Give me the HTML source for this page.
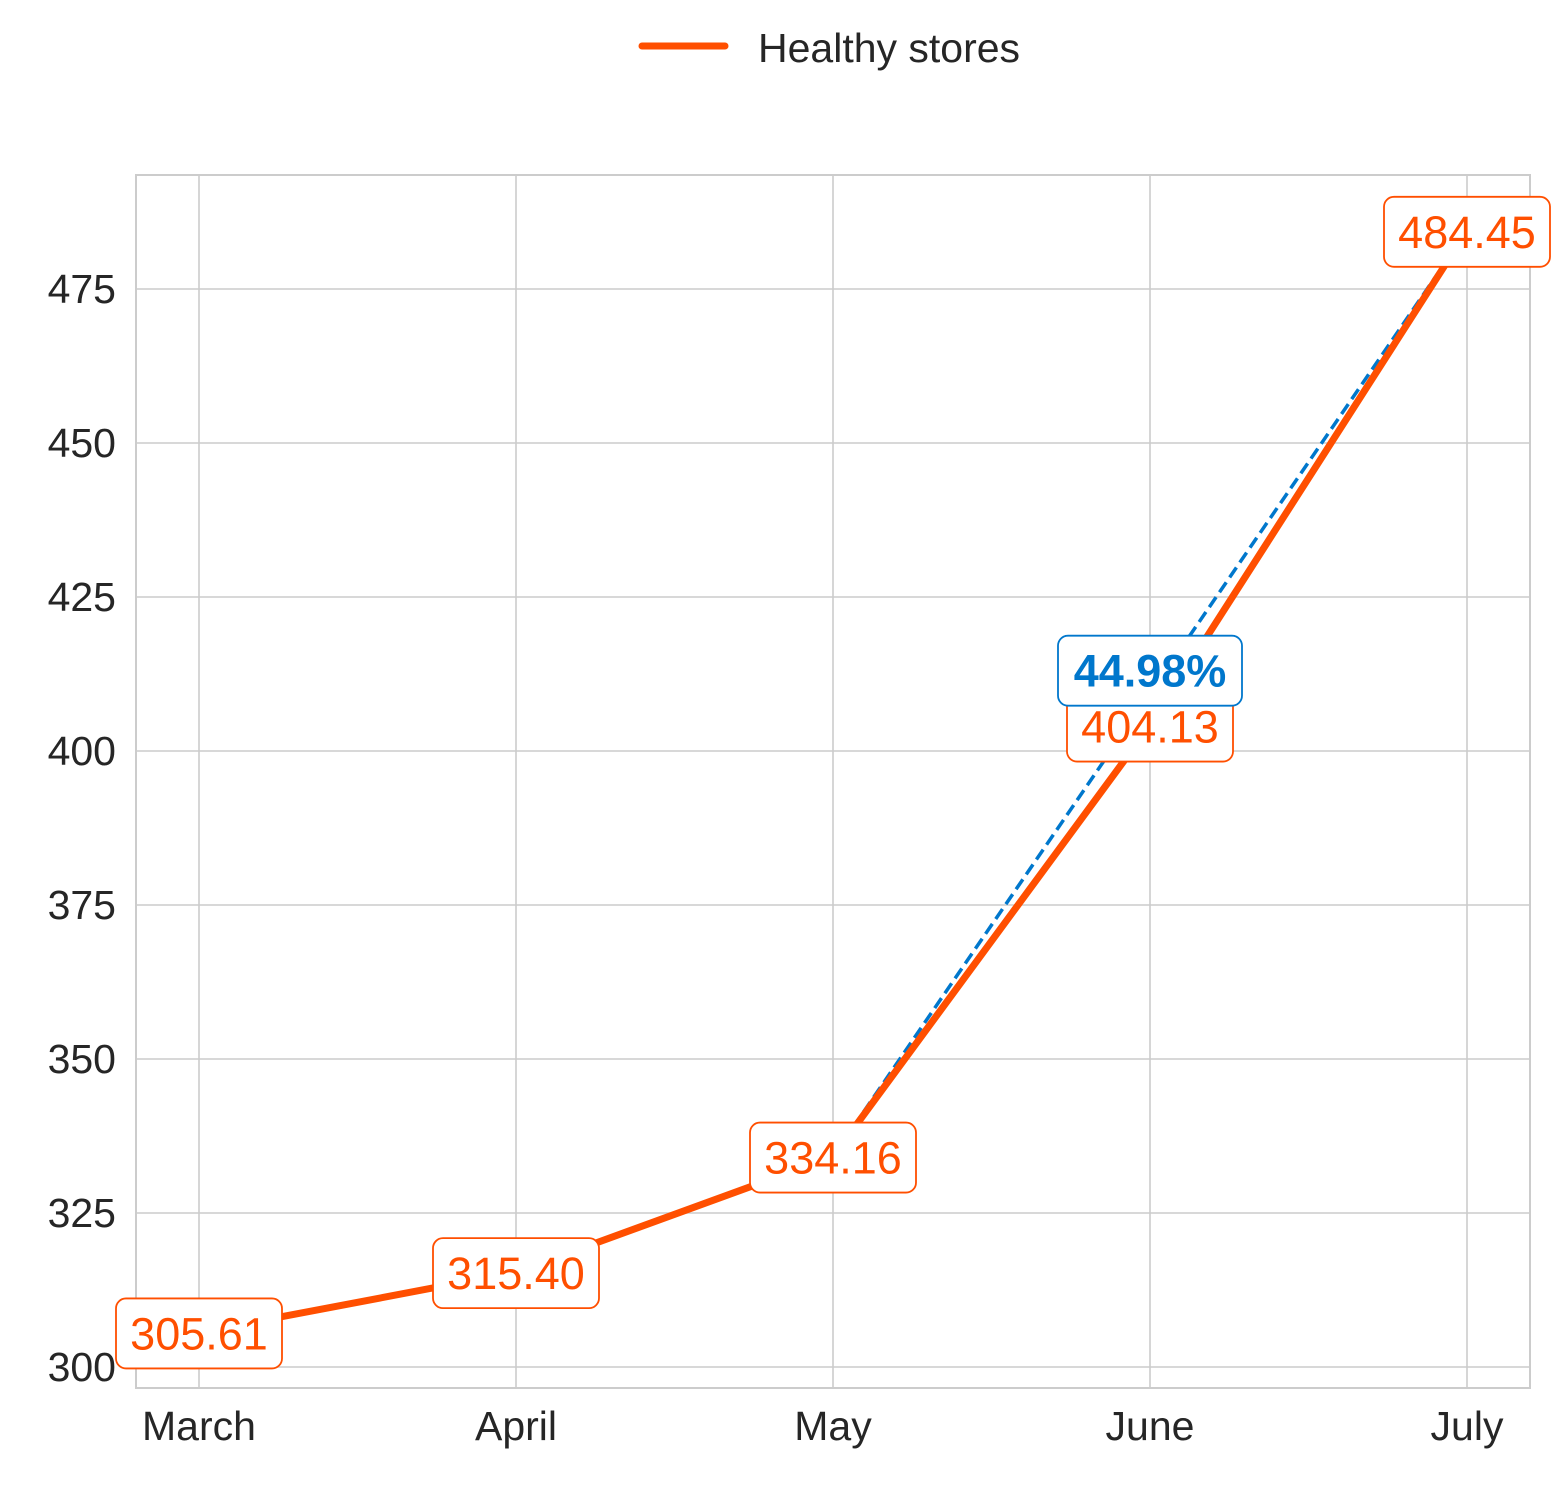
<!DOCTYPE html>
<html><head><meta charset="utf-8"><style>
html,body{margin:0;padding:0;background:#fff;}
svg{display:block;font-family:"Liberation Sans",Arial,sans-serif;}
</style></head><body>
<svg id="chart" width="1552" height="1492" viewBox="0 0 1552 1492"></svg>
<script>
const categories = ["March","April","May","June","July"];
const values = [305.61, 315.40, 334.16, 404.13, 484.45];
const yTicks = [300,325,350,375,400,425,450,475];
const growthLabel = "44.98%";
const growthFrom = 2, growthTo = 4;

const NS="http://www.w3.org/2000/svg";
const svg=document.getElementById('chart');
const L=136,R=1530,T=175,B=1388;
const xPos=i=>199+i*317;
const yPos=v=>1367-(v-300)*6.16;
const ORANGE="#FF4F00", BLUE="#0077CC";
function mk(tag,attrs,parent){const e=document.createElementNS(NS,tag);for(const k in attrs)e.setAttribute(k,attrs[k]);(parent||svg).appendChild(e);return e;}

const grid=mk('g',{});


yTicks.forEach(t=>{mk('line',{x1:L,x2:R,y1:yPos(t),y2:yPos(t),stroke:'#cccccc','stroke-width':1.6},grid);});
categories.forEach((c,i)=>{mk('line',{x1:xPos(i),x2:xPos(i),y1:T,y2:B,stroke:'#cccccc','stroke-width':1.6},grid);});
const frame=mk('rect',{x:L,y:T,width:R-L,height:B-T,fill:'none',stroke:'#cccccc','stroke-width':2});



yTicks.forEach(t=>{const e=mk('text',{x:116,y:yPos(t)+14,'text-anchor':'end','font-size':41,fill:'#262626'});e.textContent=t;

});
categories.forEach((c,i)=>{const e=mk('text',{x:xPos(i),y:1440,'text-anchor':'middle','font-size':41,fill:'#262626'});e.textContent=c;

});

const dl=mk('line',{x1:xPos(growthFrom),y1:yPos(values[growthFrom]),x2:xPos(growthTo),y2:yPos(values[growthTo]),stroke:BLUE,'stroke-width':3.5,'stroke-dasharray':'12,6'});



const pts=values.map((v,i)=>xPos(i)+','+yPos(v)).join(' ');
const pl=mk('polyline',{points:pts,fill:'none',stroke:ORANGE,'stroke-width':7,'stroke-linejoin':'round','stroke-linecap':'round'});



function labelBox(cx,cy,txt,color,bold,w,name){
  const g=mk('g',{});
  
  
  mk('rect',{x:cx-w/2,y:cy-35,width:w,height:70,rx:10,fill:'#fff',stroke:color,'stroke-width':1.8},g);
  const t=mk('text',{x:cx,y:cy+16,'text-anchor':'middle','font-size':45,fill:color,'font-weight':bold?'bold':'normal'},g);
  t.textContent=txt;
}
values.forEach((v,i)=>{labelBox(xPos(i),yPos(v)+1,v.toFixed(2),ORANGE,false,166,'value-label');});
const midV=(values[growthFrom]+values[growthTo])/2;
labelBox(xPos(3),yPos(midV)-23,growthLabel,BLUE,true,184,'growth-label');

const lg=mk('g',{});


mk('line',{x1:642,x2:725,y1:46,y2:46,stroke:ORANGE,'stroke-width':7,'stroke-linecap':'round'},lg);
const lt=mk('text',{x:758,y:62,'font-size':41,fill:'#262626'},lg);lt.textContent="Healthy stores";
</script>
</body></html>
